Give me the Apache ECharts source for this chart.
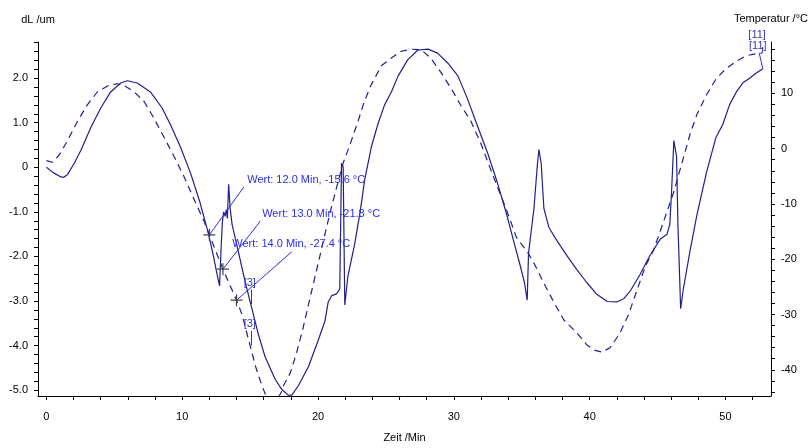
<!DOCTYPE html>
<html>
<head>
<meta charset="utf-8">
<script src="https://cdn.jsdelivr.net/npm/echarts@6/dist/echarts.min.js"></script>
<style>html,body{margin:0;padding:0;background:#fff;overflow:hidden}#c{width:811px;height:448px}</style>
</head>
<body>
<div id="c"></div>
<script>
// ---- data ----
const dlTime = [0.0,0.5,1.07,1.3,1.56,2.05,2.54,3.27,4.0,4.73,5.47,5.96,6.69,7.66,8.52,9.13,9.86,10.6,11.3,11.94,12.3,12.6,12.75,12.85,12.95,13.05,13.15,13.25,13.32,13.42,13.52,13.67,14.16,14.65,15.13,15.6,16.1,16.85,17.33,17.8,18.07,18.55,19.3,20.0,20.5,20.75,21.0,21.36,21.6,21.73,21.85,21.97,22.2,22.7,23.1,23.44,23.93,24.4,24.9,25.4,25.9,26.6,27.35,28.1,28.8,29.55,30.3,31.0,31.7,32.5,33.2,33.9,34.4,34.9,35.2,35.4,35.5,35.9,36.14,36.26,36.43,36.63,37.0,37.6,38.3,39.07,39.8,40.5,41.3,42.0,42.5,43.0,43.7,44.4,45.2,45.7,45.9,46.03,46.2,46.4,46.5,46.7,46.9,47.4,47.9,48.6,49.3,49.8,50.3,50.8,51.3,51.7,52.3,52.75];
const dlValue = [0.00,-0.12,-0.22,-0.22,-0.16,0.09,0.38,0.89,1.33,1.69,1.89,1.94,1.89,1.69,1.33,0.96,0.46,-0.12,-0.78,-1.50,-2.0,-2.45,-2.66,-1.9,-1.25,-1.0,-1.1,-0.95,-1.15,-0.38,-0.9,-1.28,-1.93,-2.59,-3.17,-3.74,-4.25,-4.76,-4.98,-5.11,-5.11,-4.90,-4.47,-3.89,-3.46,-3.02,-2.88,-2.84,-2.73,0.09,0.0,-3.09,-2.44,-1.72,-1.0,-0.27,0.46,0.96,1.40,1.69,2.05,2.41,2.63,2.65,2.56,2.34,2.05,1.54,0.96,0.31,-0.34,-1.07,-1.65,-2.22,-2.59,-2.98,-1.93,-0.92,0.02,0.40,0.09,-0.92,-1.35,-1.65,-1.97,-2.30,-2.59,-2.84,-3.01,-3.02,-2.95,-2.77,-2.41,-2.00,-1.61,-1.50,-1.28,-0.56,0.60,0.24,-1.28,-3.17,-2.73,-1.86,-1.07,-0.12,0.67,0.96,1.40,1.69,1.90,1.98,2.12,2.21];

const tempTime = [0.0,0.46,0.95,1.56,2.3,3.0,3.76,4.5,5.2,5.7,6.45,7.2,7.9,8.65,9.4,10.1,10.84,11.6,12.0,13.0,14.0,14.4,14.9,15.4,15.87,16.2,16.6,17.0,17.3,17.45,17.95,18.4,18.9,19.4,19.9,20.4,20.9,21.4,21.85,22.3,22.95,23.4,23.9,24.66,25.4,26.1,26.85,27.6,28.3,29.05,29.8,30.5,31.25,32.0,32.7,33.45,33.9,34.6,35.05,35.4,35.9,36.6,37.35,38.1,39.05,39.8,40.4,40.9,41.5,42.2,42.85,43.5,44.1,44.7,45.2,45.7,46.2,46.6,47.0,47.4,47.9,48.6,49.3,50.0,50.8,51.5,52.3,52.7];
const tempValue = [-2.16,-2.46,-1.1,1.5,5.0,7.9,10.3,11.35,11.75,11.46,10.3,8.5,5.6,2.1,-1.4,-4.9,-9.0,-13.1,-15.6,-21.8,-27.4,-30.0,-34.7,-39.4,-42.9,-44.9,-45.5,-45.4,-44.0,-42.9,-40.6,-37.1,-32.4,-27.1,-21.9,-16.6,-11.4,-6.7,-2.6,0.35,5.0,8.5,11.5,15.0,16.4,17.6,18.0,17.9,16.4,13.8,10.9,7.9,5.0,0.9,-3.7,-8.4,-11.2,-16.0,-17.5,-18.6,-20.7,-24.2,-27.7,-31.0,-33.3,-35.5,-36.5,-36.8,-36.0,-33.5,-30.1,-25.5,-21.3,-18.4,-14.9,-11.35,-7.8,-4.3,-0.8,2.7,6.2,9.7,12.6,14.4,15.8,16.8,17.2,17.3];

// marked readings on the temperature curve
const markTime = [12.0, 13.0, 14.0];
const markTemp = [-15.6, -21.8, -27.4];

// tick labels
const xTickLabels = [0, 10, 20, 30, 40, 50];
const leftTickLabels = [-5, -4, -3, -2, -1, 0, 1, 2];
const rightTickLabels = [-40, -30, -20, -10, 0, 10];

// ---- build ----
const range = (a, b, s) => { const r = []; for (let v = a; v <= b + 1e-9; v += s) r.push(Math.round(v * 100) / 100); return r; };
const xTicks = range(0, 52, 2);
const leftTicks = range(-5, 2.8, 0.2);
const rightTicks = range(-44, 18, 2);

const FONT = 'Liberation Sans, Arial, sans-serif';
const LINE = '#20208a';
const ANN = '#2b2bf0';
const ANN2 = '#3535b8';

const dlData = dlTime.map((t, i) => [t, dlValue[i]]);
const tempData = tempTime.map((t, i) => [t, tempValue[i]]);
const dlLast = dlData[dlData.length - 1];
const tempLast = tempData[tempData.length - 1];

const crossPath = 'path://M-6,-0.6H6V0.6H-6Z M-0.6,-6H0.6V6H-0.6Z';

const textPt = (coord, text, color) => ({
  coord, symbol: 'circle', symbolSize: 1, itemStyle: { color: 'rgba(0,0,0,0)' },
  label: { show: true, position: 'right', distance: 0, formatter: text, color, fontSize: 11, fontFamily: FONT }
});
const tagPt = (coord, text, offset) => ({
  coord, symbol: 'circle', symbolSize: 1, itemStyle: { color: 'rgba(0,0,0,0)' },
  label: { show: true, position: 'inside', offset, formatter: text, color: ANN2, fontSize: 11, fontFamily: FONT }
});

const wertLabels = markTime.map((t, i) => 'Wert: ' + t.toFixed(1) + ' Min, ' + markTemp[i].toFixed(1) + ' °C');
const wertTextAt = [[14.75, -5.61], [15.85, -11.75], [13.65, -17.2]];
const wertLineEnd = [[14.53, -6.96], [15.75, -13.1], [18.07, -18.65]];

const chart = echarts.init(document.getElementById('c'));
chart.setOption({
  animation: false,
  backgroundColor: '#fff',
  grid: { left: 38, right: 36, top: 42, bottom: 41, containLabel: false },
  xAxis: {
    type: 'value', min: -0.62, max: 53.35,
    name: 'Zeit /Min', nameLocation: 'middle', nameGap: 36,
    nameTextStyle: { color: '#000', fontSize: 11, fontFamily: FONT },
    axisLine: { show: true, onZero: false, lineStyle: { color: '#000', width: 1 } },
    axisTick: { show: true, customValues: xTicks, length: 4, lineStyle: { color: '#000' } },
    axisLabel: { customValues: xTickLabels, margin: 15, color: '#000', fontSize: 11, fontFamily: FONT },
    splitLine: { show: false }
  },
  yAxis: [{
    type: 'value', position: 'left', min: -5.13, max: 2.81,
    name: 'dL /um', nameLocation: 'end', nameGap: 17,
    nameTextStyle: { color: '#000', fontSize: 11, fontFamily: FONT, align: 'center' },
    axisLine: { show: true, onZero: false, lineStyle: { color: '#000', width: 1 } },
    axisTick: { show: true, customValues: leftTicks, length: 4, lineStyle: { color: '#000' } },
    axisLabel: { customValues: leftTickLabels, margin: 10, color: '#000', fontSize: 11, fontFamily: FONT,
      formatter: v => (Math.abs(v) < 1e-9 ? '0' : v.toFixed(1)) },
    splitLine: { show: false }
  }, {
    type: 'value', position: 'right', min: -44.74, max: 19.3,
    name: 'Temperatur /°C', nameLocation: 'end', nameGap: 18,
    nameTextStyle: { color: '#000', fontSize: 11, fontFamily: FONT, align: 'center' },
    axisLine: { show: true, onZero: false, lineStyle: { color: '#000', width: 1 } },
    axisTick: { show: true, customValues: rightTicks, length: 4, lineStyle: { color: '#000' } },
    axisLabel: { customValues: rightTickLabels, margin: 10, color: '#000', fontSize: 11, fontFamily: FONT },
    splitLine: { show: false }
  }],
  series: [{
    name: 'dL', type: 'line', yAxisIndex: 0, data: dlData, showSymbol: false, symbol: 'none',
    lineStyle: { color: LINE, width: 1.2 }, clip: true, z: 3,
    markLine: {
      silent: true, symbol: ['none', 'none'], label: { show: false },
      lineStyle: { color: ANN2, width: 1, type: 'solid' },
      data: [
        [{ coord: [15.05, -3.07] }, { coord: [15.05, -2.74] }],
        [{ coord: dlLast }, { coord: [52.48, 2.57] }]
      ]
    },
    markPoint: {
      silent: true,
      data: [
        tagPt([15.05, -3.07], '[3]', [-1, -21]),
        tagPt(dlLast, '[11]', [-5, -23])
      ]
    }
  }, {
    name: 'Temperatur', type: 'line', yAxisIndex: 1, data: tempData, showSymbol: false, symbol: 'none',
    lineStyle: { color: LINE, width: 1.2, type: [7, 5] }, clip: true, z: 3,
    markLine: {
      silent: true, symbol: ['none', 'none'], label: { show: false },
      lineStyle: { color: ANN, width: 1, type: 'solid' },
      data: markTime.map((t, i) => [{ coord: [t, markTemp[i]] }, { coord: wertLineEnd[i] }]).concat([
        [{ coord: [15.05, -35.6] }, { coord: [15.05, -33.0] }],
        [{ coord: tempLast }, { coord: [52.75, 18.4] }]
      ])
    },
    markPoint: {
      silent: true,
      data: markTime.map((t, i) => ({
        coord: [t, markTemp[i]], symbol: crossPath, symbolSize: 12,
        itemStyle: { color: '#444' }, label: { show: false }
      })).concat(
        wertLabels.map((s, i) => textPt(wertTextAt[i], s, ANN)),
        [tagPt([15.05, -35.6], '[3]', [-1, -22]), tagPt(tempLast, '[11]', [-5, -18])]
      )
    }
  }]
});
</script>
</body>
</html>
